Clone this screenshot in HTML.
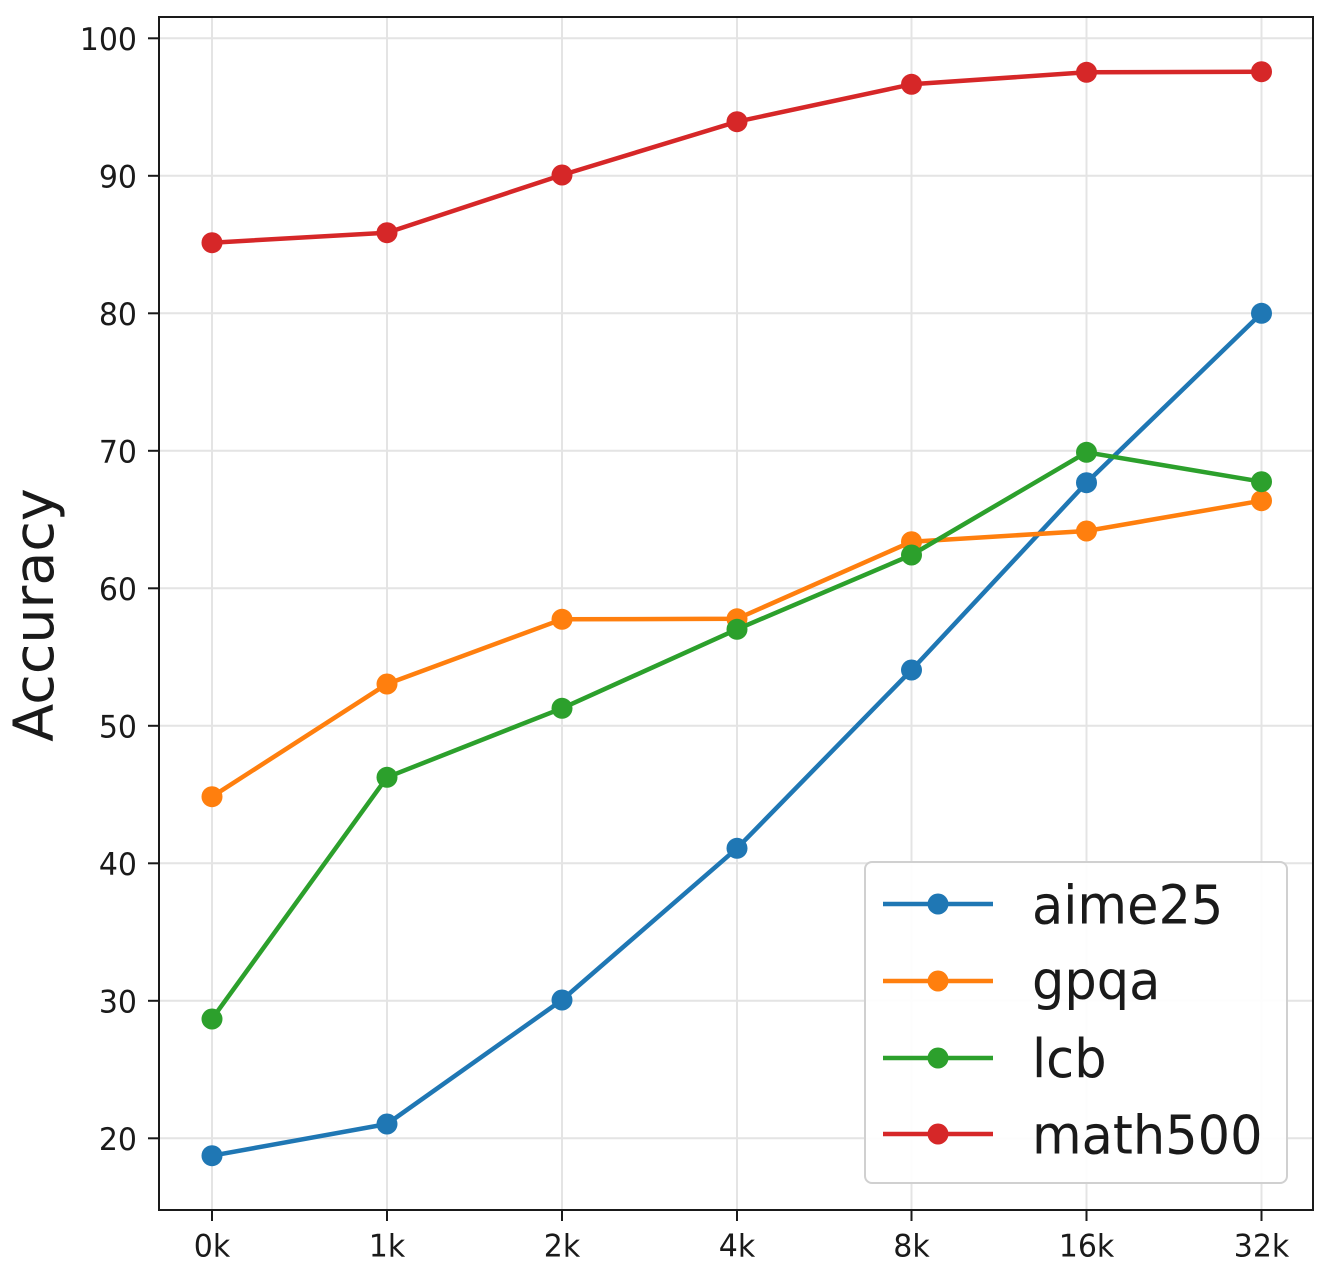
<!DOCTYPE html>
<html>
<head>
<meta charset="utf-8">
<style>
  html, body { margin: 0; padding: 0; background: #ffffff; }
  svg { display: block; }
  text { font-family: "DejaVu Sans", "Liberation Sans", sans-serif; fill: #1a1a1a; }
</style>
</head>
<body>
<svg width="1335" height="1272" viewBox="0 0 1335 1272" xmlns="http://www.w3.org/2000/svg">
  <rect x="0" y="0" width="1335" height="1272" fill="#ffffff"/>

  <!-- grid -->
  <g stroke="#e4e4e4" stroke-width="2">
    <line x1="159" y1="38.3" x2="1313" y2="38.3"/>
    <line x1="159" y1="175.8" x2="1313" y2="175.8"/>
    <line x1="159" y1="313.3" x2="1313" y2="313.3"/>
    <line x1="159" y1="450.8" x2="1313" y2="450.8"/>
    <line x1="159" y1="588.3" x2="1313" y2="588.3"/>
    <line x1="159" y1="725.8" x2="1313" y2="725.8"/>
    <line x1="159" y1="863.3" x2="1313" y2="863.3"/>
    <line x1="159" y1="1000.8" x2="1313" y2="1000.8"/>
    <line x1="159" y1="1138.3" x2="1313" y2="1138.3"/>
    <line x1="212" y1="17" x2="212" y2="1210"/>
    <line x1="387" y1="17" x2="387" y2="1210"/>
    <line x1="562" y1="17" x2="562" y2="1210"/>
    <line x1="737" y1="17" x2="737" y2="1210"/>
    <line x1="911.5" y1="17" x2="911.5" y2="1210"/>
    <line x1="1086.5" y1="17" x2="1086.5" y2="1210"/>
    <line x1="1261.5" y1="17" x2="1261.5" y2="1210"/>
  </g>

  <!-- series -->
  <g fill="none" stroke-width="4.5" stroke-linejoin="round" stroke-linecap="round">
    <polyline stroke="#1f77b4" points="212,1155.7 387,1124 562,1000 737,848.3 911.5,670 1086.5,482.7 1261.5,313.3"/>
  </g>
  <g fill="#1f77b4">
    <circle cx="212" cy="1155.7" r="10.5"/><circle cx="387" cy="1124" r="10.5"/><circle cx="562" cy="1000" r="10.5"/>
    <circle cx="737" cy="848.3" r="10.5"/><circle cx="911.5" cy="670" r="10.5"/><circle cx="1086.5" cy="482.7" r="10.5"/>
    <circle cx="1261.5" cy="313.3" r="10.5"/>
  </g>

  <g fill="none" stroke-width="4.5" stroke-linejoin="round" stroke-linecap="round">
    <polyline stroke="#ff7f0e" points="212,796.7 387,684 562,619.3 737,618.8 911.5,541.7 1086.5,531 1261.5,500.7"/>
  </g>
  <g fill="#ff7f0e">
    <circle cx="212" cy="796.7" r="10.5"/><circle cx="387" cy="684" r="10.5"/><circle cx="562" cy="619.3" r="10.5"/>
    <circle cx="737" cy="618.8" r="10.5"/><circle cx="911.5" cy="541.7" r="10.5"/><circle cx="1086.5" cy="531" r="10.5"/>
    <circle cx="1261.5" cy="500.7" r="10.5"/>
  </g>

  <g fill="none" stroke-width="4.5" stroke-linejoin="round" stroke-linecap="round">
    <polyline stroke="#2ca02c" points="212,1019 387,777.3 562,708.3 737,629.3 911.5,555 1086.5,452.3 1261.5,481.7"/>
  </g>
  <g fill="#2ca02c">
    <circle cx="212" cy="1019" r="10.5"/><circle cx="387" cy="777.3" r="10.5"/><circle cx="562" cy="708.3" r="10.5"/>
    <circle cx="737" cy="629.3" r="10.5"/><circle cx="911.5" cy="555" r="10.5"/><circle cx="1086.5" cy="452.3" r="10.5"/>
    <circle cx="1261.5" cy="481.7" r="10.5"/>
  </g>

  <g fill="none" stroke-width="4.5" stroke-linejoin="round" stroke-linecap="round">
    <polyline stroke="#d62728" points="212,242.7 387,232.7 562,175 737,121.7 911.5,84.3 1086.5,72.3 1261.5,71.7"/>
  </g>
  <g fill="#d62728">
    <circle cx="212" cy="242.7" r="10.5"/><circle cx="387" cy="232.7" r="10.5"/><circle cx="562" cy="175" r="10.5"/>
    <circle cx="737" cy="121.7" r="10.5"/><circle cx="911.5" cy="84.3" r="10.5"/><circle cx="1086.5" cy="72.3" r="10.5"/>
    <circle cx="1261.5" cy="71.7" r="10.5"/>
  </g>

  <!-- spines -->
  <rect x="159" y="17" width="1154" height="1193" fill="none" stroke="#1a1a1a" stroke-width="2"/>

  <!-- ticks -->
  <g stroke="#1a1a1a" stroke-width="2">
    <line x1="148" y1="38.3" x2="159" y2="38.3"/>
    <line x1="148" y1="175.8" x2="159" y2="175.8"/>
    <line x1="148" y1="313.3" x2="159" y2="313.3"/>
    <line x1="148" y1="450.8" x2="159" y2="450.8"/>
    <line x1="148" y1="588.3" x2="159" y2="588.3"/>
    <line x1="148" y1="725.8" x2="159" y2="725.8"/>
    <line x1="148" y1="863.3" x2="159" y2="863.3"/>
    <line x1="148" y1="1000.8" x2="159" y2="1000.8"/>
    <line x1="148" y1="1138.3" x2="159" y2="1138.3"/>
    <line x1="212" y1="1210" x2="212" y2="1221"/>
    <line x1="387" y1="1210" x2="387" y2="1221"/>
    <line x1="562" y1="1210" x2="562" y2="1221"/>
    <line x1="737" y1="1210" x2="737" y2="1221"/>
    <line x1="911.5" y1="1210" x2="911.5" y2="1221"/>
    <line x1="1086.5" y1="1210" x2="1086.5" y2="1221"/>
    <line x1="1261.5" y1="1210" x2="1261.5" y2="1221"/>
  </g>

  <!-- y tick labels -->
  <g font-size="30" text-anchor="end">
    <text transform="translate(137,49.8) scale(1,1.05)">100</text>
    <text transform="translate(137,187.3) scale(1,1.05)">90</text>
    <text transform="translate(137,324.8) scale(1,1.05)">80</text>
    <text transform="translate(137,462.3) scale(1,1.05)">70</text>
    <text transform="translate(137,599.8) scale(1,1.05)">60</text>
    <text transform="translate(137,737.3) scale(1,1.05)">50</text>
    <text transform="translate(137,874.8) scale(1,1.05)">40</text>
    <text transform="translate(137,1012.3) scale(1,1.05)">30</text>
    <text transform="translate(137,1149.8) scale(1,1.05)">20</text>
  </g>

  <!-- x tick labels -->
  <g font-size="30" text-anchor="middle">
    <text transform="translate(212,1256.5) scale(1,1.05)">0k</text>
    <text transform="translate(387,1256.5) scale(1,1.05)">1k</text>
    <text transform="translate(562,1256.5) scale(1,1.05)">2k</text>
    <text transform="translate(737,1256.5) scale(1,1.05)">4k</text>
    <text transform="translate(911.5,1256.5) scale(1,1.05)">8k</text>
    <text transform="translate(1086.5,1256.5) scale(1,1.05)">16k</text>
    <text transform="translate(1261.5,1256.5) scale(1,1.05)">32k</text>
  </g>

  <!-- y axis label -->
  <text font-size="55.5" text-anchor="middle" transform="translate(53,615) rotate(-90)">Accuracy</text>

  <!-- legend -->
  <rect x="865" y="862" width="422" height="321" rx="7" ry="7" fill="#ffffff" fill-opacity="0.9" stroke="#d0d0d0" stroke-width="2"/>
  <g stroke-width="4.5">
    <line x1="883" y1="904" x2="993" y2="904" stroke="#1f77b4"/>
    <line x1="883" y1="981" x2="993" y2="981" stroke="#ff7f0e"/>
    <line x1="883" y1="1058" x2="993" y2="1058" stroke="#2ca02c"/>
    <line x1="883" y1="1134" x2="993" y2="1134" stroke="#d62728"/>
  </g>
  <circle cx="938" cy="904" r="10.5" fill="#1f77b4"/>
  <circle cx="938" cy="981" r="10.5" fill="#ff7f0e"/>
  <circle cx="938" cy="1058" r="10.5" fill="#2ca02c"/>
  <circle cx="938" cy="1134" r="10.5" fill="#d62728"/>
  <g font-size="51" fill="#000">
    <text transform="translate(1032,923.5) scale(1,1.05)">aime25</text>
    <text transform="translate(1032,999) scale(1,1.05)">gpqa</text>
    <text transform="translate(1032,1077) scale(1,1.05)">lcb</text>
    <text transform="translate(1032,1153.5) scale(1,1.05)">math500</text>
  </g>
</svg>
</body>
</html>
